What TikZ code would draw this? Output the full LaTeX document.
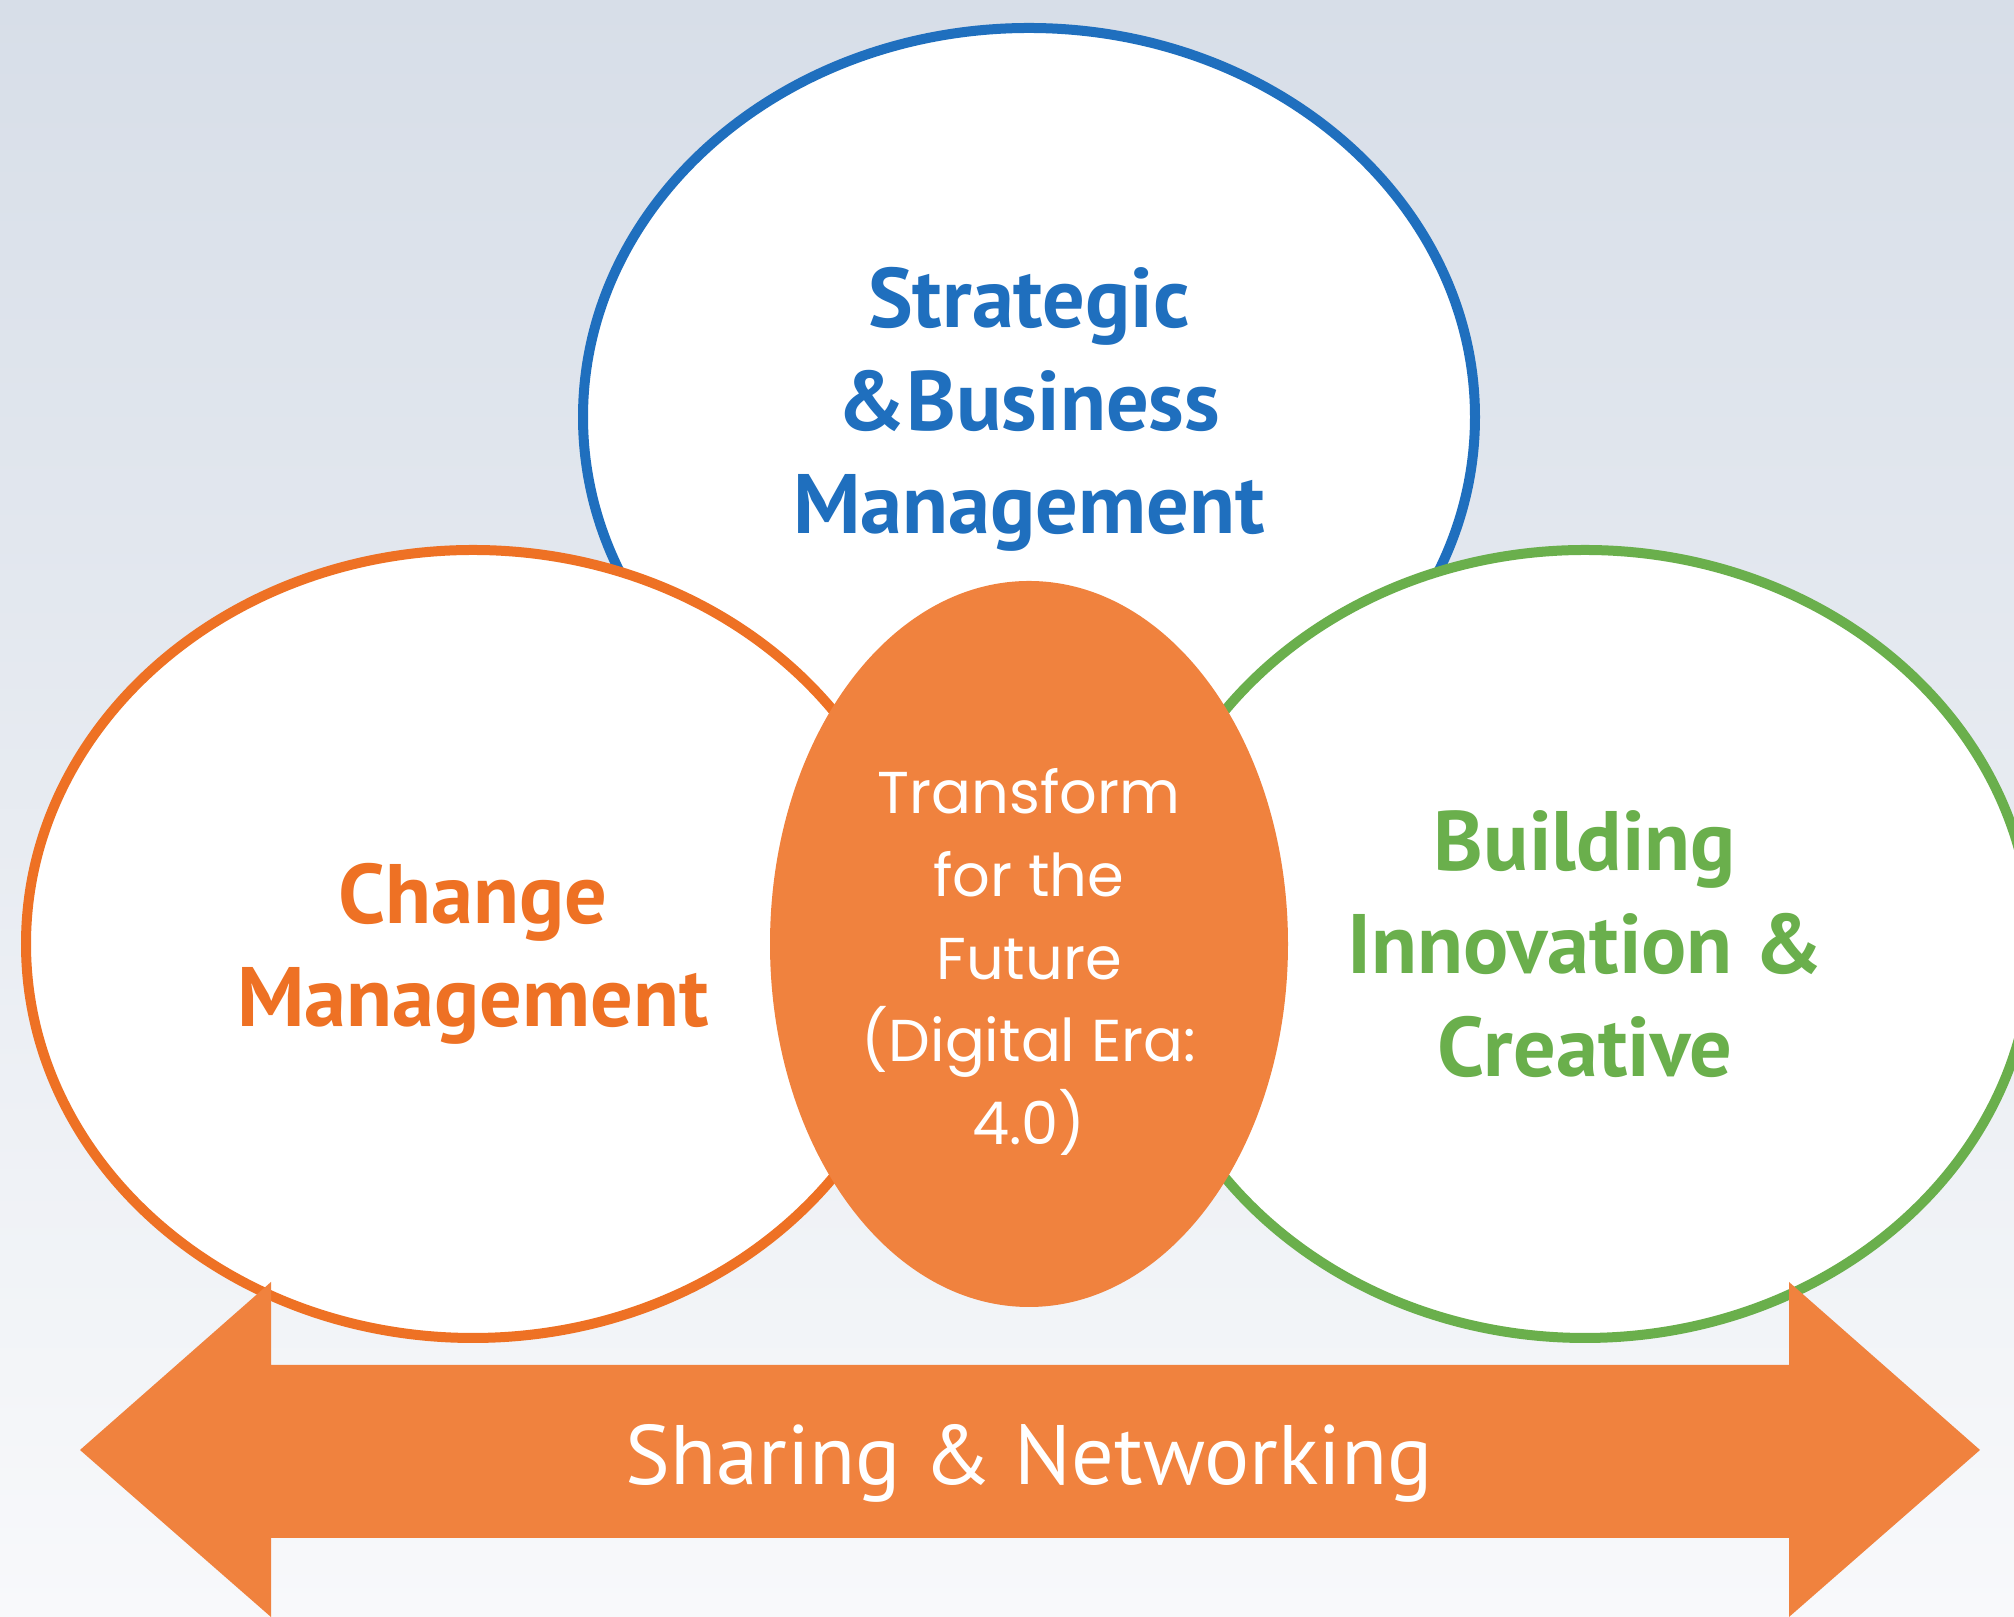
\documentclass[tikz,border=0pt]{standalone}
\usepackage{fontspec}
\setmainfont{PT Sans}
\newfontfamily\roundfont{Poppins}
\usepackage{tikz}
\usetikzlibrary{shapes.geometric}

\definecolor{ringblue}{HTML}{1F6FBE}
\definecolor{ringorange}{HTML}{EE7124}
\definecolor{ringgreen}{HTML}{6AAF4C}
\definecolor{fillorange}{HTML}{F0823E}
\definecolor{bgtop}{HTML}{D7DEE8}
\definecolor{bgbottom}{HTML}{F8F9FB}

\begin{document}
\begin{tikzpicture}[
        ring/.style={ellipse, draw, fill=white, line width=0.10cm, inner sep=0pt},
        ringtext/.style={align=center, font=\fontsize{24}{29.3}\selectfont\bfseries},
        core/.style={ellipse, fill=fillorange, inner sep=0pt},
        coretext/.style={align=center, text=white, font=\roundfont\fontsize{16.8}{23.6}\selectfont},
        band/.style={fill=fillorange},
        bandtext/.style={text=white, font=\fontsize{24}{29}\selectfont}
      ]
        % background
        \shade[top color=bgtop, bottom color=bgbottom] (0,0) rectangle (20.14,16.17);
        \useasboundingbox (0,0) rectangle (20.14,16.17);

        % the three rings
        \node[ring, draw=ringblue, minimum width=8.92cm, minimum height=7.78cm] (strategy) at (10.29,12.00) {};
        \node[ring, draw=ringorange, minimum width=8.94cm, minimum height=7.88cm] (change) at (4.73,6.73) {};
        \node[ring, draw=ringgreen, minimum width=8.94cm, minimum height=7.88cm] (innovation) at (15.85,6.73) {};

        \node[ringtext, text=ringblue, yshift=0.08cm] (strategytext) at (strategy) {Strategic\\\&Business\\Management};
        \node[ringtext, text=ringorange, yshift=-0.10cm] (changetext) at (change) {Change\\Management};
        \node[ringtext, text=ringgreen] (innovationtext) at (innovation) {Building\\Innovation \&\\Creative};

        % centre
        \node[core, minimum width=5.18cm, minimum height=7.26cm] (future) at (10.29,6.73) {};
        \node[coretext, yshift=-0.18cm] (futuretext) at (future) {Transform\\for the\\Future\\(Digital Era:\\4.0)};

        % double arrow at the bottom
        \fill[band] (0.80,1.67) -- (2.71,3.35) -- (2.71,2.52) -- (17.89,2.52) -- (17.89,3.35)
          -- (19.80,1.67) -- (17.89,0) -- (17.89,0.79) -- (2.71,0.79) -- (2.71,0) -- cycle;
        \node[bandtext] (sharing) at (10.29,1.54) {Sharing \& Networking};

    \end{tikzpicture}
\end{document}
